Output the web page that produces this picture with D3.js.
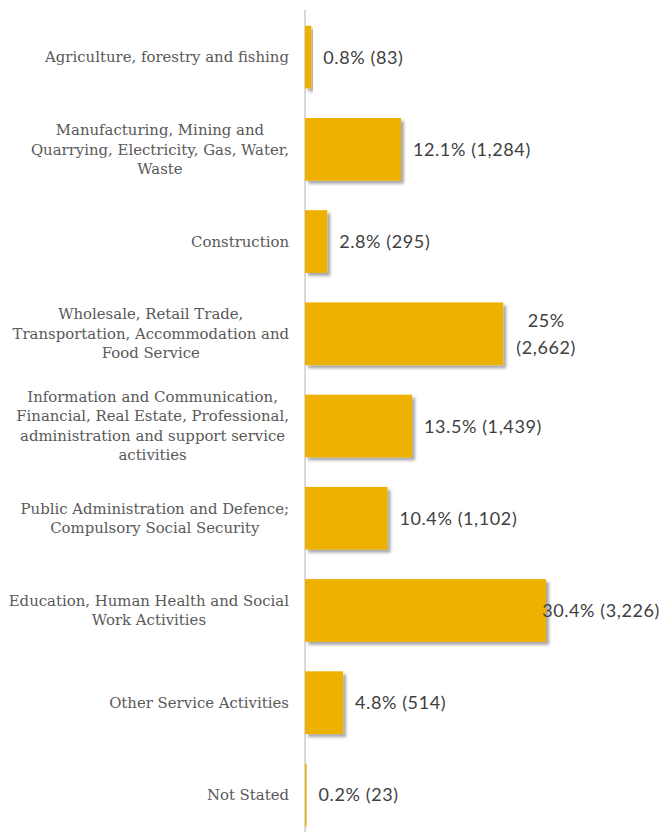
<!DOCTYPE html>
<html><head><meta charset="utf-8">
<script src="https://cdn.jsdelivr.net/npm/d3@7"></script>
<style>body{margin:0;background:#fff;} svg{display:block;}</style>
</head><body>
<svg id="chart" width="661" height="832"></svg>
<script>
const categories = [
  "Agriculture, forestry and fishing",
  "Manufacturing, Mining and\nQuarrying, Electricity, Gas, Water,\nWaste",
  "Construction",
  "Wholesale, Retail Trade,\nTransportation, Accommodation and\nFood Service",
  "Information and Communication,\nFinancial, Real Estate, Professional,\nadministration and support service\nactivities",
  "Public Administration and Defence;\nCompulsory Social Security",
  "Education, Human Health and Social\nWork Activities",
  "Other Service Activities",
  "Not Stated"
];
const percents = [0.8, 12.1, 2.8, 25, 13.5, 10.4, 30.4, 4.8, 0.2];
const counts = [83, 1284, 295, 2662, 1439, 1102, 3226, 514, 23];

const W = 661, H = 832;
const svg = d3.select("#chart");
const defs = svg.append("defs");
const f = defs.append("filter").attr("id","shadow").attr("x","-20%").attr("y","-20%").attr("width","140%").attr("height","140%");
f.append("feDropShadow").attr("dx",3).attr("dy",3).attr("stdDeviation",1.8).attr("flood-color","#000").attr("flood-opacity",0.35);

const x0 = 305;
const x = d3.scaleLinear().domain([0, 30.4]).range([x0, 546]);
const y = d3.scaleBand().domain(categories).range([11, 841]).paddingInner(0.32).paddingOuter(0.16);

svg.append("line").attr("x1",x0).attr("x2",x0).attr("y1",10).attr("y2",H)
  .attr("stroke","#d9d9d9").attr("stroke-width",2);

svg.selectAll("rect.bar").data(categories).join("rect").attr("class","bar")
  .attr("x", x(0)).attr("y", d => y(d))
  .attr("width", (d,i) => x(percents[i]) - x(0))
  .attr("height", y.bandwidth())
  .attr("fill","#EEB100").attr("filter","url(#shadow)");

// category labels
const labelFont = "'DejaVu Serif', serif";
const labelSize = 14.9;
const lineH = 19.5;
const catG = svg.append("g").attr("font-family", labelFont).attr("font-size", labelSize).attr("fill","#595959");
categories.forEach((c, i) => {
  const lines = c.split("\n");
  const cy = y(c) + y.bandwidth()/2;
  const t = catG.append("text").attr("text-anchor","middle");
  lines.forEach((ln, j) => {
    t.append("tspan").attr("y", cy + (j - (lines.length-1)/2)*lineH + labelSize*0.35).text(ln);
  });
  let maxW = 0;
  t.selectAll("tspan").each(function(){ maxW = Math.max(maxW, this.getComputedTextLength()); });
  t.selectAll("tspan").attr("x", 289 - maxW/2);
});

// value labels
const fmt = d3.format(",");
const valG = svg.append("g").attr("font-family","Lato, sans-serif").attr("font-size",18)
  .attr("letter-spacing","0.6px").attr("fill","#404040");
categories.forEach((c, i) => {
  const cy = y(c) + y.bandwidth()/2;
  const txt = percents[i] + "% (" + fmt(counts[i]) + ")";
  const xe = x(percents[i]) + 12;
  const t = valG.append("text").attr("x", xe).attr("y", cy + 6.5).text(txt);
  const w = t.node().getComputedTextLength();
  if (i === 3) {
    t.text(null).attr("text-anchor","middle");
    const parts = [percents[i] + "%", "(" + fmt(counts[i]) + ")"];
    const cx = xe + 31;
    parts.forEach((p, j) => t.append("tspan").attr("x", cx).attr("y", cy + 6.5 + (j - 0.5)*27).text(p));
  } else if (xe + w > W - 1) {
    t.attr("x", W - 1 - w);
  }
});
</script>
</body></html>
